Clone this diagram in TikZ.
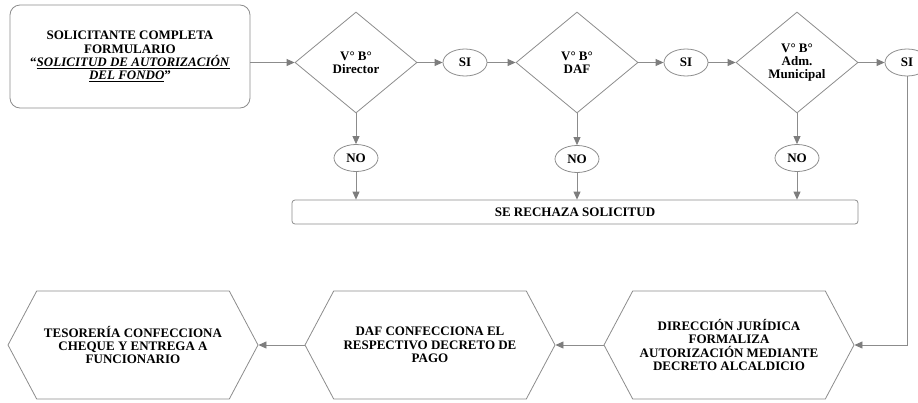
\documentclass[tikz,border=0pt]{standalone}
\usepackage{fontspec}
\setmainfont{Liberation Serif}
\usetikzlibrary{shapes,arrows.meta}
\definecolor{linegray}{RGB}{140,140,140}
\definecolor{tipgray}{RGB}{125,125,125}

\begin{document}
\begin{tikzpicture}[x=1pt,y=-1pt]
\tikzstyle{every node}+=[font=\fontsize{13}{13.3}\selectfont\bfseries, align=center, inner sep=0pt, draw=linegray, line width=0.8pt]
\tikzstyle{inicio}=[rectangle, rounded corners=10pt, minimum width=240, minimum height=103]
\tikzstyle{vobo}=[diamond, minimum width=122, minimum height=101]
\tikzstyle{resp}=[ellipse, minimum width=44, minimum height=27]
\tikzstyle{hexa}=[signal, signal to=west and east, signal pointer angle=124, minimum width=250, minimum height=108]
\tikzstyle{flecha}=[draw=linegray, line width=0.8pt, -{Triangle[length=8pt,width=7pt,color=tipgray]}]
\useasboundingbox (0,0) rectangle (918,402);
\node [inicio] (sol) at (130,56.5) {SOLICITANTE COMPLETA\\FORMULARIO\\“\underline{\textit{SOLICITUD DE AUTORIZACIÓN}}\\\underline{\textit{DEL FONDO}}”};
\node [vobo] (dir) at (356,62.5) {V° B°\\Director};
\node [resp] (si1) at (465,62.5) {SI};
\node [vobo] (daf) at (577,62.5) {V° B°\\DAF};
\node [resp] (si2) at (686,62.5) {SI};
\node [vobo] (adm) at (797,62.5) {V° B°\\Adm.\\Municipal};
\node [resp] (si3) at (907,62.5) {SI};
\node [resp] (no1) at (356,158) {NO};
\node [resp] (no2) at (577,159) {NO};
\node [resp] (no3) at (797,158) {NO};
\node [rectangle, rounded corners=3pt, minimum width=566, minimum height=24] (rech) at (575,212) {SE RECHAZA SOLICITUD};
\node [hexa] (jur) at (729,345) {DIRECCIÓN JURÍDICA\\FORMALIZA\\AUTORIZACIÓN MEDIANTE\\DECRETO ALCALDICIO};
\node [hexa] (pago) at (430,345) {DAF CONFECCIONA EL\\RESPECTIVO DECRETO DE\\PAGO};
\node [hexa] (tes) at (133,345) {TESORERÍA CONFECCIONA\\CHEQUE Y ENTREGA A\\FUNCIONARIO};
\draw [flecha] (sol.east |- dir.west) -- (dir.west);
\draw [flecha] (dir.east) -- (si1.west);
\draw [flecha] (si1.east) -- (daf.west);
\draw [flecha] (daf.east) -- (si2.west);
\draw [flecha] (si2.east) -- (adm.west);
\draw [flecha] (adm.east) -- (si3.west);
\draw [flecha] (dir.south) -- (no1.north);
\draw [flecha] (daf.south) -- (no2.north);
\draw [flecha] (adm.south) -- (no3.north);
\draw [flecha] (no1.south) -- (no1 |- rech.north);
\draw [flecha] (no2.south) -- (no2 |- rech.north);
\draw [flecha] (no3.south) -- (no3 |- rech.north);
\draw [flecha] (si3.south) |- (jur.east);
\draw [flecha] (jur.west) -- (pago.east);
\draw [flecha] (pago.west) -- (tes.east);
\end{tikzpicture}
\end{document}
